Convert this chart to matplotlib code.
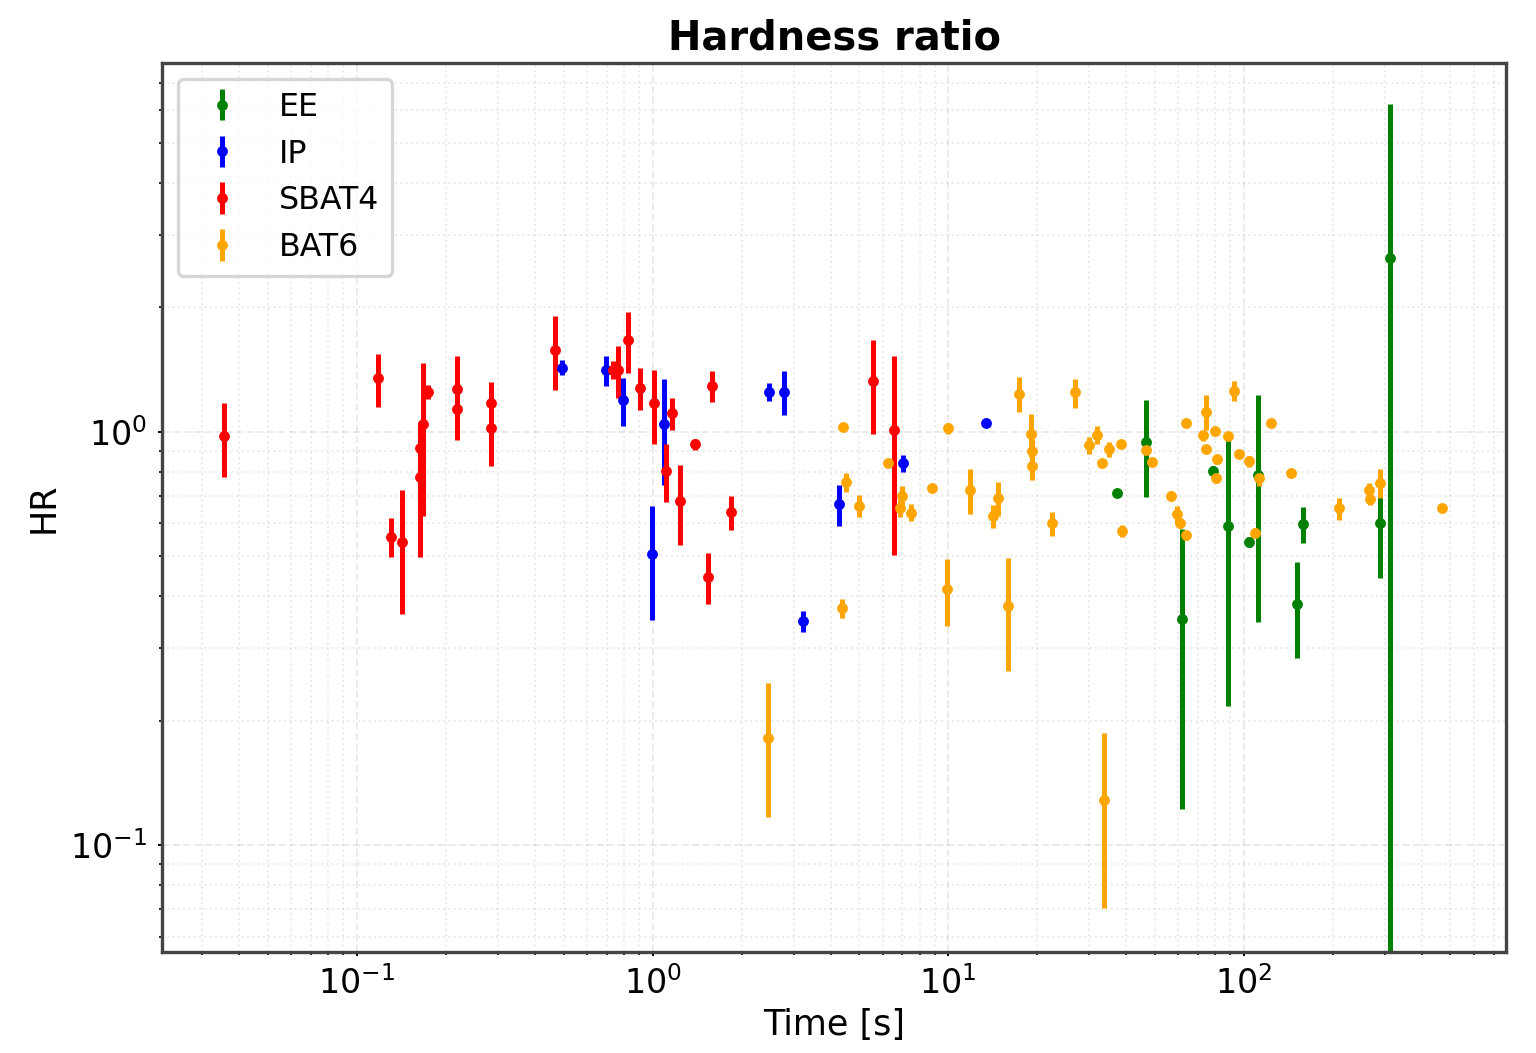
import matplotlib
matplotlib.use("Agg")
import matplotlib.pyplot as plt
import numpy as np

# ---- EE (green) ----
ee_t = [37.15, 46.69, 61.65, 78.85, 88.2, 104.1, 111.4, 151.0, 159.0, 288.9, 312.4]
ee_hr = [0.71, 0.946, 0.352, 0.805, 0.592, 0.542, 0.786, 0.384, 0.598, 0.602, 2.63]
ee_err = [0.015, 0.25, 0.23, 0.02, 0.375, 0.015, 0.44, 0.10, 0.06, 0.16, 3.6]

# ---- IP (blue) ----
ip_t = [0.4927, 0.694, 0.792, 0.998, 1.093, 2.482, 2.79, 3.227, 4.272, 7.049, 13.42]
ip_hr = [1.431, 1.41, 1.193, 0.506, 1.044, 1.25, 1.25, 0.348, 0.668, 0.839, 1.051]
ip_err = [0.06, 0.12, 0.16, 0.155, 0.30, 0.06, 0.15, 0.02, 0.075, 0.04, 0.01]

# ---- SBAT4 (red) ----
sb_t = [0.0355, 0.1175, 0.1303, 0.1423, 0.1633, 0.1676, 0.1633, 0.1734, 0.2175, 0.2175,
        0.284, 0.284, 0.4677, 0.734, 0.764, 0.824, 0.906, 1.011, 1.11, 1.16,
        1.238, 1.391, 1.543, 1.592, 1.842, 5.555, 6.574]
sb_hr = [0.976, 1.346, 0.557, 0.542, 0.778, 1.044, 0.915, 1.25, 1.273, 1.133,
         1.171, 1.021, 1.582, 1.41, 1.41, 1.667, 1.278, 1.175, 0.805, 1.108,
         0.681, 0.932, 0.446, 1.292, 0.640, 1.329, 1.013]
sb_err = [0.2, 0.2, 0.06, 0.18, 0.28, 0.42, 0.08, 0.05, 0.25, 0.18,
          0.15, 0.195, 0.32, 0.07, 0.2, 0.28, 0.15, 0.24, 0.13, 0.1,
          0.15, 0.03, 0.062, 0.11, 0.06, 0.34, 0.51]

# ---- BAT6 (orange) ----
bat_t = [2.457, 4.397, 4.511, 5.004, 4.383, 6.243, 6.95, 6.87, 7.51, 8.795,
         9.96, 9.885, 11.85, 14.71, 14.21, 15.97, 17.40, 19.02, 19.17, 19.26,
         22.50, 26.85, 29.88, 31.95, 33.06, 33.65, 34.91, 38.34, 38.73, 46.69,
         48.80, 56.5, 59.3, 60.83, 63.76, 63.62, 74.5, 72.6, 74.5, 79.9,
         81.4, 88.2, 80.4, 92.7, 96.1, 103.9, 112.3, 109.1, 123.3, 144.4,
         209.4, 265.9, 267.3, 288.9, 469.5]
bat_hr = [0.182, 1.028, 0.754, 0.662, 0.374, 0.839, 0.699, 0.653, 0.637, 0.730,
          1.019, 0.416, 0.723, 0.692, 0.625, 0.379, 1.238, 0.987, 0.900, 0.826,
          0.600, 1.245, 0.929, 0.982, 0.841, 0.1285, 0.907, 0.932, 0.575, 0.903,
          0.846, 0.70, 0.632, 0.600, 0.562, 1.051, 1.118, 0.982, 0.907, 1.006,
          0.858, 0.978, 0.771, 1.256, 0.882, 0.849, 0.771, 0.570, 1.048, 0.796,
          0.653, 0.723, 0.686, 0.753, 0.655]
bat_err = [0.065, 0.015, 0.04, 0.04, 0.02, 0.015, 0.04, 0.03, 0.03, 0.015,
           0.03, 0.077, 0.09, 0.065, 0.04, 0.115, 0.12, 0.12, 0.06, 0.06,
           0.04, 0.1, 0.045, 0.05, 0.015, 0.058, 0.04, 0.015, 0.02, 0.015,
           0.015, 0.02, 0.03, 0.015, 0.015, 0.015, 0.11, 0.03, 0.02, 0.02,
           0.02, 0.015, 0.02, 0.07, 0.015, 0.025, 0.03, 0.015, 0.015, 0.015,
           0.04, 0.03, 0.02, 0.06, 0.015]

series = [
    ("EE", ee_t, ee_hr, ee_err, "green"),
    ("IP", ip_t, ip_hr, ip_err, "blue"),
    ("SBAT4", sb_t, sb_hr, sb_err, "red"),
    ("BAT6", bat_t, bat_hr, bat_err, "orange"),
]

fig = plt.figure(figsize=(6.4, 4.3875), dpi=240)
ax = fig.add_axes([0.1055, 0.0959, 0.875, 0.8441])

for label, t, hr, err, col in series:
    ax.errorbar(t, hr, yerr=err, fmt='.', ms=4.5, color=col, label=label)

ax.set_xscale('log')
ax.set_yscale('log')
ax.set_xlim(0.0219, 771)
ax.set_ylim(0.0551, 7.80)
ax.grid(True, which='major', ls='--', lw=0.6, alpha=0.25)
ax.grid(True, which='minor', ls=':', lw=0.6, alpha=0.25)
ax.tick_params(which='major', length=1.2, width=0.6, pad=3.2)
ax.tick_params(which='minor', length=0.8, width=0.5)
for sp in ax.spines.values():
    sp.set_color('#444444')
    sp.set_linewidth(1.0)

ax.set_title("Hardness ratio", fontweight='bold', fontsize=12, pad=4)
ax.set_xlabel("Time [s]", fontsize=10.5, labelpad=2)
ax.set_ylabel("HR", fontsize=10.5, labelpad=3)
ax.legend(loc='upper left', fontsize=9.5, handlelength=2.0)

fig.savefig("out.png", dpi=240)
